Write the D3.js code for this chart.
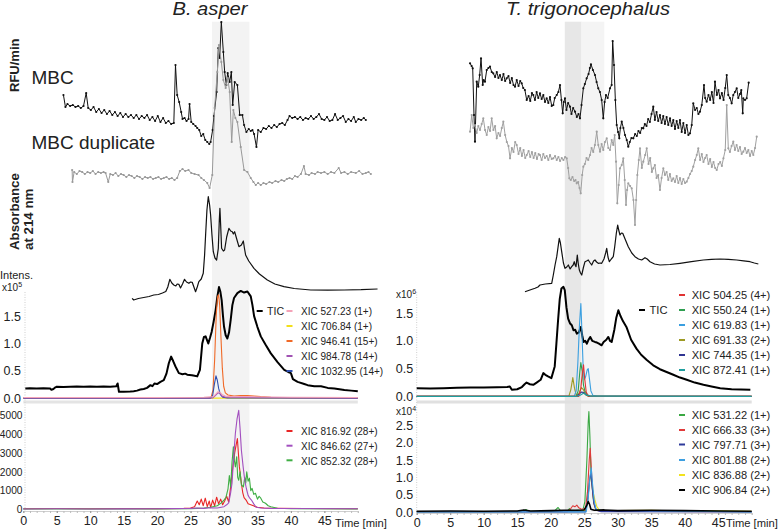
<!DOCTYPE html>
<html><head><meta charset="utf-8">
<script src="https://cdn.jsdelivr.net/npm/d3@7"></script>
<style>body{margin:0;background:#fff}svg{display:block}text{font-family:"Liberation Sans",Arial,sans-serif;fill:#222}</style>
</head><body>
<script>
// ---------------- DATA ----------------
const xTicks = [0,5,10,15,20,25,30,35,40,45];
const upperTicks = [0,0.5,1.0,1.5];
const lowerLeftTicks = [0,1000,2000,3000,4000,5000];
const lowerRightTicks = [0,0.5,1.0,1.5,2.0,2.5];
const titles = ["B. asper","T. trigonocephalus"];
const bandLeftTimes = [28.2,33.8];
const bandRightTimes = [22.1,24.6,28.0];

// top block (arbitrary signal units), time in min
const leftMBC = [[6.0,55],[6.3,43],[6.6,46],[7.0,44],[7.4,45],[7.8,43],[8.2,44],[8.6,42],[9.0,44],[9.4,57],[9.7,42],[10.1,40],[10.5,43],[10.9,38],[11.3,41],[11.7,37],[12.1,40],[12.5,36],[12.9,39],[13.3,35],[13.7,38],[14.1,34],[14.5,37],[14.9,33],[15.3,36],[15.7,33],[16.1,35],[16.5,32],[16.9,35],[17.3,31],[17.7,34],[18.1,32],[18.5,35],[18.9,30],[19.3,33],[19.7,29],[20.1,34],[20.5,28],[20.9,32],[21.3,27],[21.7,29],[22.1,26],[22.5,27],[22.75,85],[23.0,55],[23.3,48],[23.6,38],[23.8,31],[24.1,32],[24.4,29],[24.7,31],[24.85,46],[25.1,28],[25.4,26],[25.75,24],[26.0,22],[26.3,20],[26.6,14],[26.9,16],[27.2,10],[27.5,8],[27.8,6],[28.0,8],[28.3,20],[28.5,34],[28.9,58],[29.15,102],[29.35,92],[29.6,128],[29.9,98],[30.1,78],[30.35,65],[30.55,77],[30.85,68],[31.1,78],[31.3,45],[31.6,68],[32.0,65],[32.35,35],[32.75,35],[33.0,25],[33.35,18],[33.7,21],[34.0,19],[34.25,20],[34.5,16],[34.85,3],[35.1,20],[35.5,18],[35.9,22],[36.3,21],[36.7,24],[37.1,22],[37.5,25],[37.9,23],[38.3,26],[38.7,27],[39.1,25],[39.5,30],[39.8,34],[40.2,32],[40.6,33],[41.0,31],[41.4,33],[41.8,30],[42.2,32],[42.6,31],[43.0,34],[43.4,31],[43.8,33],[44.2,36],[44.6,31],[45.0,30],[45.4,33],[45.8,29],[46.2,30],[46.6,36],[47.0,30],[47.4,32],[47.8,34],[48.2,28],[48.6,31],[49.0,29],[49.4,33],[49.7,28],[50.1,31],[50.5,30],[50.9,32],[51.2,30]];
const leftDup = [[7.3,60],[7.35,48],[7.6,58],[8.0,56],[8.4,59],[8.8,58],[9.2,56],[9.6,58],[10.0,57],[10.4,59],[10.8,56],[11.2,58],[11.6,57],[12.0,58],[12.3,57],[12.7,48],[13.0,56],[13.4,55],[13.8,57],[14.2,54],[14.6,56],[15.0,55],[15.4,53],[15.8,55],[16.2,54],[16.6,52],[17.0,54],[17.4,53],[17.8,51],[18.2,53],[18.6,52],[19.0,53],[19.4,51],[19.8,52],[20.2,53],[20.6,51],[21.0,52],[21.4,53],[21.8,51],[22.2,52],[22.6,50],[23.0,52],[23.4,59],[23.8,61],[24.2,59],[24.7,60],[25.1,57],[25.6,56],[26.2,55],[26.6,52],[27.0,50],[27.5,47],[27.85,42],[28.25,55],[28.6,122],[29.0,158],[29.25,185],[29.6,168],[29.9,150],[30.25,142],[30.55,152],[30.85,138],[31.15,88],[31.4,120],[31.7,112],[32.0,108],[32.5,83],[33.0,60],[33.5,58],[34.0,52],[34.4,48],[34.75,45],[35.1,47],[35.5,45],[35.9,47],[36.3,46],[36.8,48],[37.2,47],[37.7,49],[38.1,48],[38.6,50],[39.0,49],[39.4,51],[39.8,52],[40.2,51],[40.6,54],[41.0,53],[41.5,56],[41.95,64],[42.2,56],[42.7,55],[43.1,57],[43.6,56],[44.0,58],[44.5,57],[45.0,58],[45.5,56],[46.0,58],[46.5,57],[47.15,62],[47.5,57],[48.0,58],[48.5,56],[49.0,58],[49.7,57],[50.2,59],[50.7,56],[51.2,57],[51.6,58],[51.95,56]];
const leftAbs = [[16.27,6.7],[16.5,5],[17.2,6.5],[18.0,7.5],[18.8,8.5],[19.5,10],[20.2,10.5],[20.8,12],[21.3,13.5],[21.6,18],[21.9,25.7],[22.2,22],[22.5,20],[22.8,19],[23.0,21],[23.25,20.7],[23.5,17],[23.8,21],[24.1,25.7],[24.4,23],[24.75,21.7],[25.0,23],[25.25,22.7],[25.5,18],[25.75,13.3],[26.0,18],[26.24,23.3],[26.6,26],[26.9,31.7],[27.1,50],[27.25,70],[27.45,95],[27.65,108.3],[27.85,100],[28.0,90],[28.2,70],[28.4,53.3],[28.65,47],[28.9,45],[29.15,56.7],[29.3,85],[29.39,96.7],[29.5,80],[29.64,56.7],[29.9,54],[30.09,55],[30.4,68],[30.73,76.7],[31.0,74],[31.24,73.3],[31.4,71],[31.59,73.3],[31.9,66],[32.23,58.3],[32.6,60],[32.89,64],[33.05,57],[33.23,50],[33.7,44],[34.48,36.7],[35.3,31],[36.48,25],[37.6,21],[38.97,18.3],[40.5,16.5],[42.96,15],[45.5,14.8],[47.95,15],[50.5,15.3],[52.95,16]];
const rightMBC = [[7.96,86.7],[8.2,84],[8.36,81.7],[8.55,35],[8.7,8.3],[8.96,68.3],[9.19,63.3],[9.4,75],[9.6,91.7],[9.85,65],[10.0,70],[10.19,68.3],[10.45,80],[10.7,82],[10.94,83.3],[11.2,78],[11.43,76.7],[11.7,73],[11.95,78],[12.2,72],[12.43,75],[12.7,70],[12.95,76],[13.2,69],[13.43,71.7],[13.7,74],[13.95,67],[14.2,72],[14.45,65],[14.67,63.3],[14.93,70],[15.2,64],[15.45,69],[15.67,66.7],[15.9,62],[16.15,60],[16.42,50],[16.7,54],[16.95,49],[17.2,57],[17.4,55],[17.65,50],[17.9,58],[18.15,52],[18.4,56.7],[18.65,51],[18.9,55],[19.15,48],[19.4,51.7],[19.65,47],[19.9,53],[20.15,44],[20.39,45],[20.6,52],[20.9,55],[21.15,58],[21.39,65],[21.6,50],[21.79,36.7],[21.95,48],[22.13,51.7],[22.35,40],[22.6,47],[22.88,43.3],[23.1,36],[23.35,42],[23.63,38.3],[23.9,33],[24.15,36],[24.37,31.7],[24.6,45],[24.87,61.7],[25.1,66],[25.37,71.7],[25.65,76],[25.85,82],[26.01,85.7],[26.3,80],[26.61,75],[26.85,68],[27.1,61.7],[27.35,58],[27.61,50],[27.85,31.7],[28.05,48],[28.25,55],[28.5,52],[28.85,61.7],[29.1,65],[29.25,109],[29.45,85],[29.65,50],[29.85,25],[30.05,18],[30.24,11.7],[30.4,22],[30.6,28.3],[30.85,22],[31.09,15],[31.35,10],[31.58,3.3],[31.8,8],[32.05,12],[32.33,11.7],[32.6,16],[32.85,14],[33.1,19],[33.35,17],[33.6,22],[33.82,21.7],[34.05,26],[34.3,24],[34.55,31],[34.8,28],[35.05,36],[35.31,43.3],[35.55,30],[35.8,38],[36.05,29],[36.31,35],[36.55,27],[36.8,34],[37.05,26],[37.3,33],[37.55,25],[37.81,31.7],[38.05,24],[38.3,30],[38.55,21],[38.8,29],[39.05,22],[39.3,30],[39.55,18],[39.8,27],[40.05,17],[40.3,25],[40.55,15],[40.79,16.7],[41.05,25],[41.28,46.7],[41.55,40],[41.8,42],[42.05,36],[42.28,38.3],[42.55,45],[42.88,65],[43.05,52],[43.28,48.3],[43.55,55],[43.8,50],[44.05,58],[44.3,47],[44.52,68.3],[44.8,55],[45.05,60],[45.27,51.7],[45.55,57],[45.8,50],[46.05,62],[46.27,75],[46.5,55],[46.75,52],[47.01,46.7],[47.25,55],[47.5,58],[47.76,61.7],[48.0,52],[48.25,56],[48.45,60],[48.66,36.7],[48.75,51.7],[49.0,50],[49.25,51.7],[49.55,67.3]];
const rightDup = [[7.96,98.3],[8.21,115],[8.45,102],[8.7,105],[8.95,97],[9.2,104],[9.45,100],[9.7,106],[9.94,111.7],[10.2,100],[10.45,95],[10.7,103],[10.95,99],[11.19,111.7],[11.45,100],[11.7,104],[11.94,91.7],[12.2,97],[12.45,94],[12.7,102],[12.93,108.3],[13.2,95],[13.45,88],[13.7,84],[13.93,71.7],[14.2,82],[14.45,78],[14.7,88],[14.93,85],[15.2,76],[15.45,82],[15.7,74],[15.95,80],[16.2,72],[16.42,75],[16.7,79],[16.95,73],[17.2,78],[17.45,72],[17.7,77],[17.95,71],[18.2,76],[18.4,75],[18.65,70],[18.9,76],[19.15,72],[19.4,74],[19.65,70],[19.9,75],[20.15,71],[20.39,71.7],[20.65,74],[20.9,70],[21.15,73],[21.4,69],[21.65,72],[21.9,70],[22.15,73],[22.39,71.7],[22.6,62],[22.78,51.7],[23.0,50],[23.25,53],[23.5,49],[23.7,50],[23.88,46.7],[24.1,48],[24.3,42],[24.48,36.7],[24.7,55],[24.87,63.3],[25.1,66],[25.35,72],[25.6,70],[25.87,75],[26.1,82],[26.35,78],[26.6,85],[26.87,98.3],[27.1,85],[27.36,78.3],[27.6,86],[27.85,80],[28.1,88],[28.36,91.7],[28.6,82],[28.85,80],[29.1,90],[29.34,85],[29.55,95],[29.75,68.3],[29.94,26.7],[30.15,45],[30.34,61.7],[30.6,65],[30.84,71.7],[31.05,50],[31.24,25],[31.4,40],[31.58,46.7],[31.85,44],[32.09,41.7],[32.35,30],[32.58,5],[32.75,30],[32.93,55],[33.15,70],[33.33,81.7],[33.6,62],[33.82,68.3],[34.1,75],[34.33,81.7],[34.6,66],[34.85,72],[35.1,58],[35.31,61.7],[35.55,65],[35.8,52],[36.05,55],[36.31,40],[36.55,52],[36.81,61.7],[37.05,55],[37.3,58],[37.55,50],[37.8,56],[38.05,49],[38.3,51.7],[38.55,48],[38.8,54],[39.05,47],[39.3,52],[39.55,46],[39.8,51],[40.05,47],[40.3,48.3],[40.55,52],[40.8,56],[41.05,59],[41.28,63.3],[41.55,70],[41.8,75],[42.03,81.7],[42.3,70],[42.55,76],[42.8,68],[43.05,72],[43.28,75],[43.55,66],[43.8,71],[44.05,63],[44.3,68],[44.55,62],[44.78,60],[45.05,66],[45.3,68],[45.55,64],[45.78,71.7],[46.05,80],[46.27,125],[46.51,81.7],[46.75,78],[47.0,84],[47.25,88.3],[47.5,80],[47.75,85],[48.0,79],[48.25,83],[48.5,76],[48.75,78.3],[49.0,82],[49.25,77],[49.5,80],[49.75,74],[50.0,79],[50.24,75],[50.5,82],[50.75,93.3]];
const rightAbs = [[16.16,13.3],[16.9,15],[17.66,16.7],[18.1,18],[18.4,20],[19.2,21],[20.15,21.7],[20.39,30],[20.65,40],[20.9,48.3],[21.1,58],[21.28,66.7],[21.45,62],[21.64,53.3],[21.9,42],[22.13,36.7],[22.4,38],[22.63,40],[22.9,36],[23.13,38.3],[23.35,40],[23.52,43.3],[23.65,40],[23.78,38.3],[23.97,50],[24.1,42],[24.27,35],[24.45,32],[24.63,30],[24.9,38],[25.12,43.3],[25.35,44],[25.61,45],[25.9,42],[26.12,40],[26.4,44],[26.61,45],[26.85,43],[27.1,41.7],[27.4,42],[27.61,41.7],[27.95,46],[28.2,52],[28.36,56.7],[28.55,48],[28.75,43.3],[29.05,46],[29.34,48.3],[29.55,58],[29.8,72],[30.0,80],[30.15,75],[30.34,70],[30.55,72],[30.75,71.7],[31.1,66],[31.58,58.3],[32.1,52],[32.58,48.3],[33.1,46],[33.58,45],[34.07,47.3],[34.4,46],[34.82,43.3],[35.5,41],[36.31,40],[37.8,40.5],[39.3,41.7],[41.0,43.3],[42.78,45],[44.0,45.7],[45.27,46],[46.5,45.7],[47.76,45],[48.8,44.2],[49.75,43.3],[50.4,42],[50.99,41]];

// MS: B. asper, upper (x10^5)
const leftTIC = [[0.3,0.18],[1.0,0.185],[2.0,0.18],[3.0,0.185],[4.0,0.18],[4.2,0.155],[4.5,0.17],[4.8,0.2],[5.0,0.21],[6.0,0.205],[7.0,0.21],[8.0,0.215],[9.0,0.21],[10.0,0.215],[11.0,0.21],[12.0,0.215],[13.0,0.21],[13.9,0.22],[14.1,0.27],[14.3,0.12],[15.0,0.12],[16.0,0.125],[16.5,0.13],[17.0,0.14],[17.5,0.16],[18.0,0.17],[18.5,0.19],[19.0,0.24],[19.3,0.22],[19.6,0.27],[20.0,0.26],[20.5,0.30],[21.0,0.33],[21.4,0.45],[21.75,0.64],[22.1,0.76],[22.4,0.68],[22.75,0.58],[23.25,0.46],[23.8,0.44],[24.2,0.45],[24.5,0.43],[25.2,0.42],[25.6,0.41],[26.0,0.40],[26.4,0.52],[26.75,1.0],[27.0,1.12],[27.25,1.13],[27.65,1.0],[27.9,1.1],[28.15,1.21],[28.45,1.4],[28.75,1.61],[29.0,1.85],[29.25,2.03],[29.45,1.95],[29.65,1.79],[29.85,1.5],[30.0,1.31],[30.25,1.15],[30.5,1.09],[30.75,1.2],[31.0,1.43],[31.25,1.7],[31.5,1.83],[32.0,1.92],[32.5,1.96],[33.0,1.93],[33.5,1.95],[34.0,1.86],[34.25,1.7],[34.5,1.5],[35.0,1.3],[35.5,1.13],[36.2,0.98],[37.0,0.82],[38.0,0.66],[39.0,0.52],[39.6,0.48],[40.0,0.46],[40.3,0.35],[41.0,0.30],[42.0,0.26],[42.5,0.24],[43.5,0.22],[44.5,0.22],[45.5,0.19],[46.5,0.18],[48.0,0.15],[49.0,0.14],[50.0,0.13]];
const xic527 = [[0,0.015],[10,0.015],[20,0.015],[27,0.02],[28.4,0.03],[28.8,0.08],[29.1,0.12],[29.4,0.11],[29.7,0.07],[30.2,0.04],[31,0.03],[34,0.03],[40,0.02],[50,0.015]];
const xic706 = [[0,0.003],[50,0.003]];
const xic946 = [[0,0.005],[27.8,0.005],[28.1,0.03],[28.35,0.15],[28.6,0.7],[28.85,1.55],[29.05,1.86],[29.2,1.89],[29.35,1.7],[29.55,1.1],[29.75,0.55],[29.95,0.22],[30.2,0.1],[30.6,0.06],[31.5,0.04],[32.5,0.05],[33.5,0.05],[34.5,0.04],[35.5,0.03],[37,0.02],[40,0.01],[50,0.005]];
const xic984 = [[0,0.005],[28.3,0.005],[28.7,0.05],[29.1,0.1],[29.4,0.09],[29.7,0.04],[30.3,0.02],[31,0.02],[35,0.01],[50,0.005]];
const xic1032 = [[0,0.003],[28.0,0.003],[28.3,0.05],[28.55,0.25],[28.8,0.41],[29.0,0.33],[29.2,0.18],[29.45,0.07],[29.8,0.02],[30.5,0.005],[50,0.003]];
// B. asper, lower (counts)
const xic816 = [[0,40],[5,50],[10,40],[15,50],[20,45],[24,60],[25,80],[25.6,150],[26.0,450],[26.3,250],[26.6,550],[26.9,200],[27.2,600],[27.5,150],[27.8,450],[28.0,100],[28.3,500],[28.6,200],[28.9,650],[29.2,300],[29.5,550],[29.8,250],[30.1,450],[30.4,700],[30.7,400],[31.0,1200],[31.3,2200],[31.6,3000],[31.8,3400],[32.0,3760],[32.15,3000],[32.3,2260],[32.6,1390],[32.8,900],[33.0,630],[33.3,500],[33.6,300],[34.0,250],[34.5,180],[35,120],[36,80],[38,60],[42,50],[50,40]];
const xic846 = [[0,30],[5,40],[10,30],[15,35],[20,40],[25,60],[26,80],[27,60],[28,90],[29,80],[30,150],[30.4,250],[30.7,350],[31.0,900],[31.2,1390],[31.45,2800],[31.7,4040],[31.95,4800],[32.2,5260],[32.4,4300],[32.6,3140],[32.85,2300],[33.1,1550],[33.35,1100],[33.6,750],[33.85,600],[34.1,500],[34.45,300],[34.8,120],[35.5,80],[37,60],[40,50],[50,40]];
const xic852 = [[0,30],[20,30],[25,40],[26,60],[27,80],[28,120],[29,200],[29.6,350],[30.0,500],[30.3,650],[30.6,1100],[30.8,1800],[31.0,1200],[31.2,2500],[31.4,3320],[31.55,2600],[31.7,2260],[31.9,2800],[32.05,1700],[32.2,1550],[32.4,2000],[32.6,1300],[32.9,1200],[33.1,1700],[33.25,1400],[33.4,2000],[33.6,1500],[33.8,1660],[34.0,1000],[34.2,1120],[34.45,800],[34.7,860],[35.0,550],[35.25,700],[35.5,600],[35.8,400],[36.2,330],[36.6,200],[37,150],[38,70],[40,40],[50,30]];

// MS: T. trigonocephalus, upper (x10^6)
const rightTIC = [[0,0.15],[2,0.145],[4,0.15],[6,0.155],[8,0.16],[10,0.16],[12,0.165],[13.5,0.17],[13.9,0.18],[14.2,0.12],[15.0,0.13],[15.7,0.17],[16.1,0.22],[16.4,0.25],[16.9,0.22],[17.4,0.21],[17.9,0.25],[18.5,0.3],[18.9,0.42],[19.2,0.39],[19.6,0.36],[20.1,0.33],[20.6,0.54],[20.85,0.95],[21.1,1.37],[21.35,1.75],[21.6,1.94],[21.9,1.97],[22.1,1.91],[22.35,1.6],[22.6,1.4],[22.9,1.31],[23.15,1.28],[23.4,1.19],[23.65,1.2],[23.9,1.13],[24.2,1.15],[24.5,1.25],[24.7,1.1],[24.9,0.98],[25.15,1.0],[25.4,0.95],[25.65,1.02],[25.9,1.07],[26.2,1.0],[26.6,0.98],[26.9,0.97],[27.2,0.95],[27.6,0.92],[27.9,0.98],[28.3,1.02],[28.6,1.07],[28.85,1.0],[29.1,0.98],[29.5,1.2],[29.8,1.42],[30.1,1.55],[30.4,1.45],[30.8,1.35],[31.3,1.25],[32.0,1.02],[32.8,0.86],[33.5,0.75],[34.3,0.66],[35.3,0.56],[36.3,0.49],[37.3,0.44],[38.3,0.39],[39.3,0.34],[40.3,0.30],[41.5,0.25],[42.8,0.21],[44.0,0.18],[45.3,0.15],[47.0,0.13],[49.8,0.12]];
const xic504 = [[0,0.002],[24.2,0.002],[24.5,0.15],[24.7,0.4],[24.9,0.57],[25.05,0.35],[25.3,0.08],[25.6,0.005],[50,0.002]];
const xic550 = [[0,0.002],[23.8,0.002],[24.1,0.1],[24.35,0.45],[24.5,0.61],[24.7,0.45],[24.9,0.2],[25.1,0.1],[25.4,0.04],[25.8,0.005],[50,0.002]];
const xic619 = [[0,0.003],[23.5,0.003],[23.8,0.1],[24.05,0.6],[24.3,1.3],[24.5,1.67],[24.65,1.2],[24.85,0.5],[25.0,0.3],[25.2,0.35],[25.45,0.48],[25.6,0.5],[25.8,0.3],[26.0,0.1],[26.3,0.02],[27,0.005],[50,0.003]];
const xic691 = [[0,0.002],[22.7,0.002],[23.0,0.12],[23.3,0.34],[23.55,0.15],[23.8,0.03],[24.2,0.05],[24.6,0.16],[24.9,0.12],[25.2,0.03],[25.6,0.002],[50,0.002]];
const xic744 = [[0,0.002],[23.8,0.002],[24.2,0.04],[24.6,0.08],[24.95,0.07],[25.3,0.03],[25.8,0.005],[50,0.002]];
const xic872 = [[0,0],[23.8,0],[24.5,0.03],[24.9,0.06],[25.3,0.03],[26,0.005],[50,0]];
// T. trigonocephalus, lower (x10^4)
const xic531 = [[0,0.01],[15.8,0.01],[16.3,0.07],[16.7,0.02],[20.5,0.02],[21.1,0.13],[21.5,0.03],[22.5,0.03],[22.8,0.1],[23.1,0.03],[24.0,0.05],[24.8,0.05],[25.1,0.3],[25.4,1.5],[25.6,2.6],[25.7,2.9],[25.85,2.2],[26.0,1.2],[26.2,0.7],[26.4,0.3],[26.7,0.08],[27.5,0.04],[30,0.03],[35,0.03],[50,0.01]];
const xic666 = [[0,0.01],[22.5,0.01],[23.0,0.1],[23.3,0.18],[23.6,0.15],[23.9,0.2],[24.2,0.12],[24.6,0.08],[25.2,0.1],[25.5,0.6],[25.75,1.5],[25.9,1.84],[26.05,1.3],[26.25,0.6],[26.5,0.2],[26.8,0.05],[27.5,0.02],[50,0.01]];
const xic797 = [[0,0.005],[25.2,0.005],[25.5,0.3],[25.8,0.9],[26.0,1.15],[26.2,0.7],[26.45,0.25],[26.8,0.05],[27.5,0.01],[50,0.005]];
const xic801 = [[0,0.005],[25.3,0.005],[25.6,0.4],[25.85,1.0],[26.05,1.28],[26.25,0.8],[26.5,0.3],[26.8,0.05],[50,0.005]];
const xic836 = [[0,0.01],[24,0.02],[25.2,0.05],[25.5,0.3],[25.75,0.8],[25.95,1.05],[26.15,0.9],[26.35,0.55],[26.6,0.35],[26.9,0.15],[27.3,0.05],[30,0.04],[35,0.05],[40,0.03],[43,0.04],[50,0.02]];
const xic906 = [[0,0.02],[5,0.03],[10,0.02],[15,0.03],[16,0.06],[17,0.03],[20,0.04],[22,0.05],[24,0.05],[25.0,0.06],[25.4,0.2],[25.6,0.3],[25.8,0.22],[26.0,0.08],[26.5,0.05],[28,0.06],[30,0.04],[35,0.05],[40,0.04],[45,0.03],[50,0.02]];

const legLU = ["XIC 527.23 (1+)","XIC 706.84 (1+)","XIC 946.41 (15+)","XIC 984.78 (14+)","XIC 1032.95 (14+)"];
const legLL = ["XIC 816.92 (28+)","XIC 846.62 (27+)","XIC 852.32 (28+)"];
const legRU = ["XIC 504.25 (4+)","XIC 550.24 (1+)","XIC 619.83 (1+)","XIC 691.33 (2+)","XIC 744.35 (1+)","XIC 872.41 (1+)"];
const legRL = ["XIC 531.22 (1+)","XIC 666.33 (3+)","XIC 797.71 (3+)","XIC 801.88 (2+)","XIC 836.88 (2+)","XIC 906.84 (2+)"];

// ---------------- DRAW ----------------
const W = 780, H = 530;
const svg = d3.select("body").append("svg").attr("width", W).attr("height", H);

const xL = d3.scaleLinear().domain([0,50]).range([23.3,357.8]);
const xR = d3.scaleLinear().domain([0,50]).range([416.7,751.7]);
const mbcY = d3.scaleLinear().domain([0,130]).range([150,20]);
const dupY = d3.scaleLinear().domain([0,190]).range([230,40]);
const absY = d3.scaleLinear().domain([0,110]).range([305,195]);
const yLU = d3.scaleLinear().domain([0,1.5]).range([398.3,316.1]);
const yLL = d3.scaleLinear().domain([0,5000]).range([509.5,415.2]);
const yRU = d3.scaleLinear().domain([0,1.5]).range([396.5,313]);
const yRL = d3.scaleLinear().domain([0,2.5]).range([512,425.5]);

const bandTop = 21.7, bandBot = 512;
svg.append("rect").attr("x", xL(bandLeftTimes[0])).attr("y", bandTop)
  .attr("width", xL(bandLeftTimes[1]) - xL(bandLeftTimes[0])).attr("height", bandBot - bandTop).attr("fill", "#f3f3f3");
svg.append("rect").attr("x", xR(bandRightTimes[0])).attr("y", bandTop)
  .attr("width", xR(bandRightTimes[1]) - xR(bandRightTimes[0])).attr("height", bandBot - bandTop).attr("fill", "#e7e7e7");
svg.append("rect").attr("x", xR(bandRightTimes[1])).attr("y", bandTop)
  .attr("width", xR(bandRightTimes[2]) - xR(bandRightTimes[1])).attr("height", bandBot - bandTop).attr("fill", "#f4f4f4");

function line(data, xs, ys, color, w) {
  svg.append("path").datum(data)
    .attr("d", d3.line().x(d => xs(d[0])).y(d => ys(d[1])))
    .attr("fill", "none").attr("stroke", color).attr("stroke-width", w)
    .attr("stroke-linejoin", "round");
}
function dots(data, xs, ys, color) {
  svg.append("g").selectAll("circle").data(data).join("circle")
    .attr("cx", d => xs(d[0])).attr("cy", d => ys(d[1])).attr("r", 1.1).attr("fill", color);
}
function txt(x, y, s, o = {}) {
  const t = svg.append("text").attr("transform", `translate(${x},${y})${o.rot ? " rotate(" + o.rot + ")" : ""}${o.sx ? " scale(" + o.sx + ",1)" : ""}`)
    .attr("font-size", o.size || 12).attr("text-anchor", o.anchor || "start");
  if (o.weight) t.attr("font-weight", o.weight);
  if (o.style) t.attr("font-style", o.style);
  t.text(s);
  return t;
}

svg.append("line").attr("x1", xL(0)).attr("x2", xL(50)).attr("y1", 402).attr("y2", 402).attr("stroke", "#e4e4e4").attr("stroke-width", 3);
svg.append("line").attr("x1", xR(0)).attr("x2", xR(50)).attr("y1", 402).attr("y2", 402).attr("stroke", "#e0e0e0").attr("stroke-width", 3);
[[25, 292, 511], [416.7, 292, 512]].forEach(a => {
  svg.append("line").attr("x1", a[0]).attr("x2", a[0]).attr("y1", a[1]).attr("y2", a[2])
    .attr("stroke", "#cfcfcf").attr("stroke-width", 1).attr("stroke-dasharray", "1,1.5");
});

// top traces
line(leftMBC, xL, mbcY, "#111", 1); dots(leftMBC, xL, mbcY, "#111");
line(leftDup, xL, dupY, "#999", 1); dots(leftDup, xL, dupY, "#999");
line(leftAbs, xL, absY, "#111", 1.2);
line(rightMBC, xR, mbcY, "#111", 1); dots(rightMBC, xR, mbcY, "#111");
line(rightDup, xR, dupY, "#a0a0a0", 1); dots(rightDup, xR, dupY, "#a0a0a0");
line(rightAbs, xR, absY, "#111", 1.2);

// MS left upper
line(leftTIC, xL, yLU, "#000", 2);
const cLU = ["#f4a3b8", "#f2df1a", "#f06a28", "#a152b3", "#2f4fb0"];
line(xic706, xL, yLU, cLU[1], 1.1);
line(xic946, xL, yLU, cLU[2], 1.1);
line(xic1032, xL, yLU, cLU[4], 1.1);
line(xic984, xL, yLU, cLU[3], 1.1);
line(xic527, xL, yLU, cLU[0], 1.1);
// MS left lower
const cLL = ["#e82626", "#a24fbf", "#3fae44"];
line(xic816, xL, yLL, cLL[0], 1.1);
line(xic852, xL, yLL, cLL[2], 1.1);
line(xic846, xL, yLL, cLL[1], 1.1);

// MS right upper
line(rightTIC, xR, yRU, "#000", 2);
const cRU = ["#e03333", "#2f9e50", "#3a9fe0", "#9d9a24", "#303592", "#1f9e9e"];
line(xic691, xR, yRU, cRU[3], 1.1);
line(xic744, xR, yRU, cRU[4], 1.1);
line(xic619, xR, yRU, cRU[2], 1.1);
line(xic550, xR, yRU, cRU[1], 1.1);
line(xic504, xR, yRU, cRU[0], 1.1);
line(xic872, xR, yRU, cRU[5], 1.2);
// MS right lower
const cRL = ["#3aa843", "#e03a3a", "#2e3a9a", "#3d9fe0", "#f2e21e", "#000"];
line(xic836, xR, yRL, cRL[4], 1.1);
line(xic531, xR, yRL, cRL[0], 1.1);
line(xic666, xR, yRL, cRL[1], 1.1);
line(xic797, xR, yRL, cRL[2], 1.1);
line(xic801, xR, yRL, cRL[3], 1.1);
line(xic906, xR, yRL, cRL[5], 1.6);

// axes
function styleAxis(g, size) {
  g.selectAll("text").attr("font-size", size).attr("fill", "#222").attr("font-family", '"Liberation Sans",Arial,sans-serif');
  g.select(".domain").remove();
}
function xAxis(xs, y) {
  const minor = svg.append("g").attr("transform", `translate(0,${y})`)
    .call(d3.axisBottom(xs).tickValues(d3.range(0, 51, 1)).tickFormat("").tickSize(2));
  minor.select(".domain").attr("stroke", "#cfcfcf");
  minor.selectAll(".tick line").attr("stroke", "#bbb");
  const g = svg.append("g").attr("transform", `translate(0,${y})`)
    .call(d3.axisBottom(xs).tickValues(xTicks).tickSize(2).tickPadding(3));
  styleAxis(g, 12.5);
  g.selectAll(".tick line").attr("stroke", "#999");
}
xAxis(xL, 511); xAxis(xR, 513);
function yAxis(ys, x, vals, fmt, pad, size) {
  const g = svg.append("g").attr("transform", `translate(${x},0)`)
    .call(d3.axisLeft(ys).tickValues(vals).tickFormat(fmt).tickSize(0).tickPadding(pad));
  styleAxis(g, size);
}
yAxis(yLU, 25, upperTicks, d3.format(".1f"), 4, 12.5);
yAxis(yLL, 25, lowerLeftTicks, d3.format("d"), 2.5, 10.2);
yAxis(yRU, 416.7, upperTicks, d3.format(".1f"), 3.5, 12.5);
yAxis(yRL, 416.7, lowerRightTicks, d3.format(".1f"), 3.5, 12.5);

// titles and labels
txt(210, 15, titles[0], {size: 18, style: "italic", anchor: "middle", sx: 1.12});
txt(588, 15, titles[1], {size: 18, style: "italic", anchor: "middle", sx: 1.12});
txt(18.5, 92, "RFU/min", {size: 13, weight: "bold", rot: -90});
txt(19, 250, "Absorbance", {size: 13.3, weight: "bold", rot: -90});
txt(33, 250, "at 214 nm", {size: 13.3, weight: "bold", rot: -90});
txt(31.5, 83.5, "MBC", {size: 19});
txt(31.5, 148.5, "MBC duplicate", {size: 19});
txt(0, 279, "Intens.", {size: 11});
function sci(x, y, exp) {
  const t = svg.append("text").attr("x", x).attr("y", y).attr("font-size", 10);
  t.append("tspan").text("x10");
  t.append("tspan").attr("dy", -4.5).attr("font-size", 7).text(exp);
}
sci(2, 291, "5");
sci(396, 298, "6");
sci(396, 415, "4");
txt(335, 527, "Time [min]", {size: 11.2});
txt(726, 527, "Time [min]", {size: 11.2});

// legends
function legend(labels, colors, dashX, textX, ys, sx) {
  labels.forEach((s, i) => {
    svg.append("line").attr("x1", dashX).attr("x2", dashX + 6).attr("y1", ys[i]).attr("y2", ys[i])
      .attr("stroke", colors[i]).attr("stroke-width", 2);
    txt(textX, ys[i] + 4.3, s, {size: 11.8, sx: sx});
  });
}
legend(["TIC"], ["#000"], 256.7, 267, [311], 0.9);
legend(legLU, cLU, 286.5, 301, [311, 326, 341, 356, 371], 0.85);
legend(legLL, cLL, 286.5, 301, [431, 445.7, 460.3], 0.85);
legend(["TIC"], ["#000"], 639, 649.5, [310], 0.95);
legend(legRU, cRU, 679, 691.7, [295, 310, 325, 340, 355, 370], 0.94);
legend(legRL, cRL, 679, 691.7, [415, 430, 444.5, 460, 475, 490], 0.94);
</script>
</body></html>
